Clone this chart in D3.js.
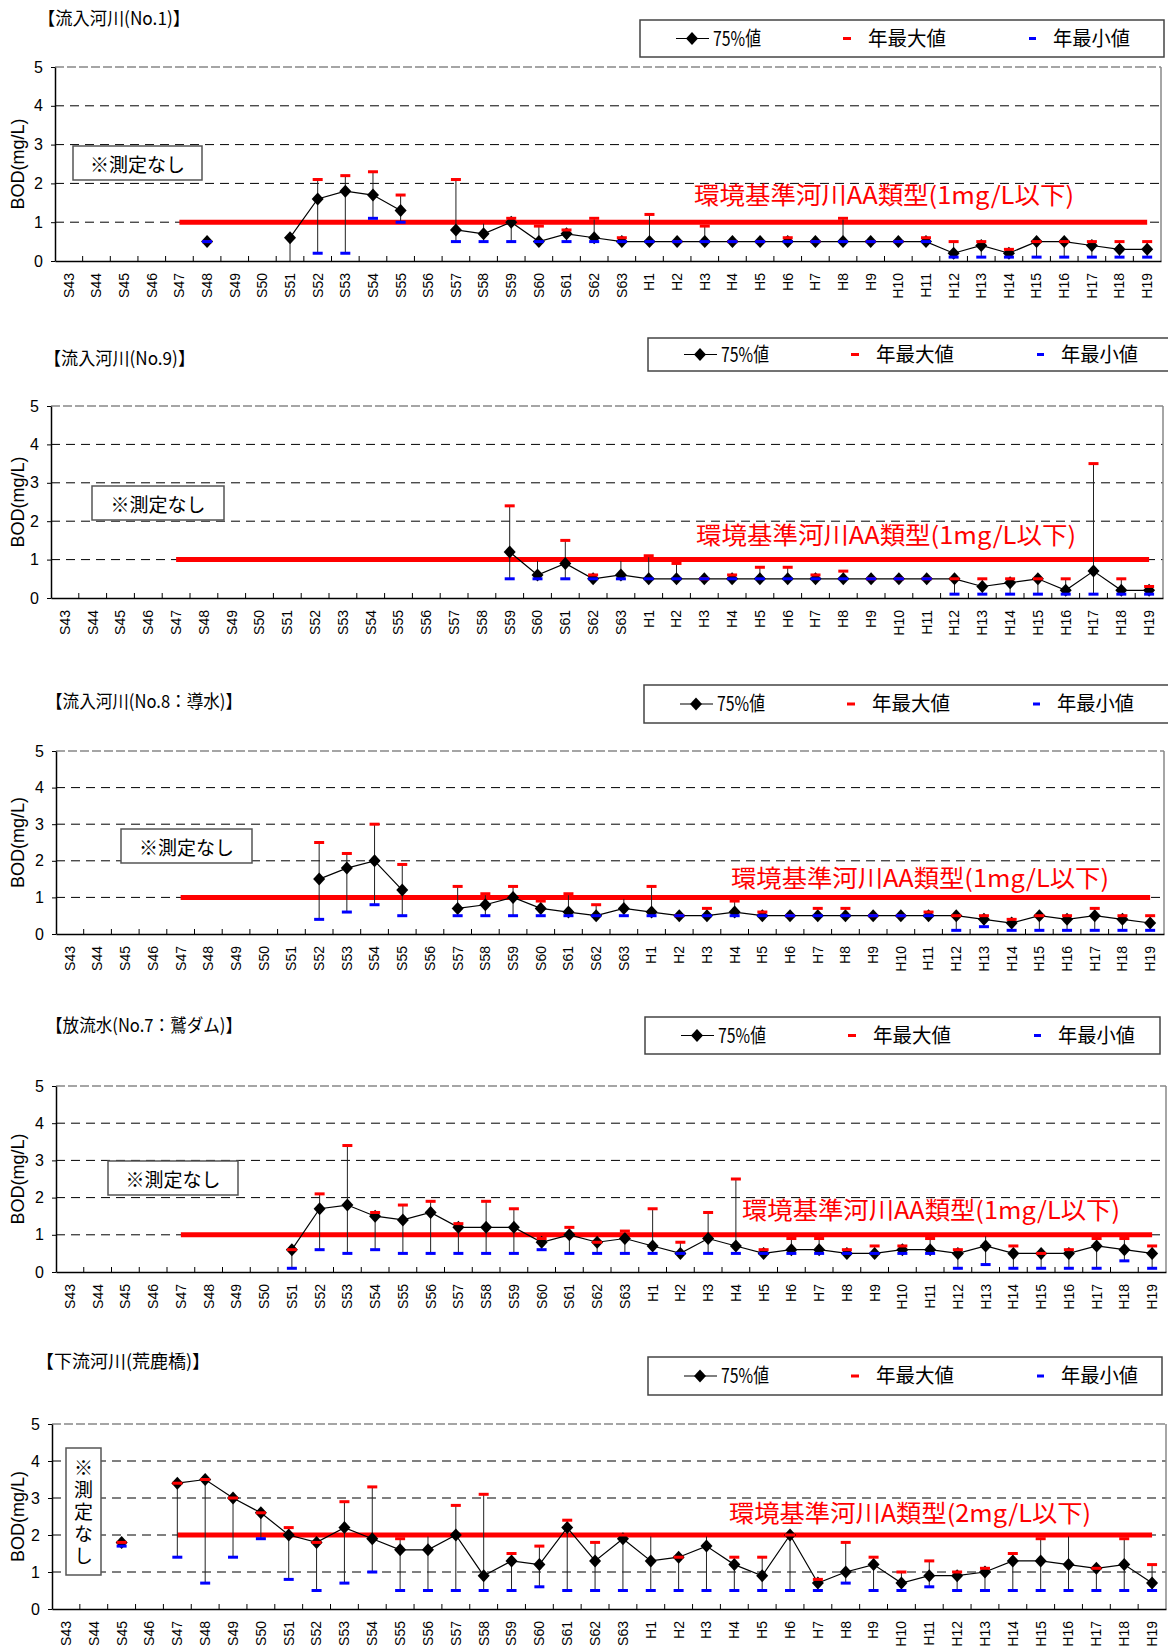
<!DOCTYPE html>
<html>
<head>
<meta charset="utf-8">
<script src="https://cdn.jsdelivr.net/npm/d3@7"></script>
<style>
  body { margin: 0; background: #fff; }
  svg { display: block; }
</style>
</head>
<body>
<div id="chart"></div>
<script>
const _ = null;

// fiscal years on the x axis
const years = ['S43','S44','S45','S46','S47','S48','S49','S50','S51','S52','S53','S54','S55','S56','S57','S58','S59','S60','S61','S62','S63',
  'H1','H2','H3','H4','H5','H6','H7','H8','H9','H10','H11','H12','H13','H14','H15','H16','H17','H18','H19'];
const yTicks = [0, 1, 2, 3, 4, 5];

// 流入河川 No.1
const no1P75 = [_,_,_,_,_, 0.5,_,_, 0.6,1.6,1.8,1.7,1.3,_, 0.8,0.7,1.0,0.5,0.7,0.6,0.5,
  0.5,0.5,0.5,0.5,0.5,0.5,0.5,0.5,0.5,0.5,0.5, 0.2,0.4,0.2,0.5,0.5,0.4,0.3,0.3];
const no1Max = [_,_,_,_,_, 0.5,_,_, _,2.1,2.2,2.3,1.7,_, 2.1,1.0,1.1,0.9,0.8,1.1,0.6,
  1.2,0.5,0.9,0.5,0.5,0.6,0.5,1.1,0.5,0.5,0.6, 0.5,0.5,0.3,0.5,0.5,0.5,0.5,0.5];
const no1Min = [_,_,_,_,_, 0.5,_,_, 0.0,0.2,0.2,1.1,1.0,_, 0.5,0.5,0.5,0.5,0.5,0.5,0.5,
  0.5,0.5,0.5,0.5,0.5,0.5,0.5,0.5,0.5,0.5,0.5, 0.1,0.1,0.1,0.1,0.1,0.1,0.1,0.1];

// 流入河川 No.9
const no9P75 = [_,_,_,_,_,_,_,_,_,_,_,_,_,_,_,_, 1.2,0.6,0.9,0.5,0.6,
  0.5,0.5,0.5,0.5,0.5,0.5,0.5,0.5,0.5,0.5,0.5, 0.5,0.3,0.4,0.5,0.2,0.7,0.2,0.2];
const no9Max = [_,_,_,_,_,_,_,_,_,_,_,_,_,_,_,_, 2.4,1.0,1.5,0.6,1.0,
  1.1,0.9,0.5,0.6,0.8,0.8,0.6,0.7,0.5,0.5,0.5, 0.5,0.5,0.5,0.5,0.5,3.5,0.5,0.3];
const no9Min = [_,_,_,_,_,_,_,_,_,_,_,_,_,_,_,_, 0.5,0.5,0.5,0.5,0.5,
  0.5,0.5,0.5,0.5,0.5,0.5,0.5,0.5,0.5,0.5,0.5, 0.1,0.1,0.1,0.1,0.1,0.1,0.1,0.1];

// 流入河川 No.8 導水
const no8P75 = [_,_,_,_,_,_,_,_,_, 1.5,1.8,2.0,1.2,_, 0.7,0.8,1.0,0.7,0.6,0.5,0.7,
  0.6,0.5,0.5,0.6,0.5,0.5,0.5,0.5,0.5,0.5,0.5, 0.5,0.4,0.3,0.5,0.4,0.5,0.4,0.3];
const no8Max = [_,_,_,_,_,_,_,_,_, 2.5,2.2,3.0,1.9,_, 1.3,1.1,1.3,0.9,1.1,0.8,1.0,
  1.3,0.5,0.7,0.9,0.6,0.5,0.7,0.7,0.5,0.5,0.6, 0.5,0.5,0.4,0.5,0.5,0.7,0.5,0.5];
const no8Min = [_,_,_,_,_,_,_,_,_, 0.4,0.6,0.8,0.5,_, 0.5,0.5,0.5,0.5,0.5,0.5,0.5,
  0.5,0.5,0.5,0.5,0.5,0.5,0.5,0.5,0.5,0.5,0.5, 0.1,0.2,0.1,0.1,0.1,0.1,0.1,0.1];

// 放流水 No.7 鷲ダム
const no7P75 = [_,_,_,_,_,_,_,_, 0.6,1.7,1.8,1.5,1.4,1.6, 1.2,1.2,1.2,0.8,1.0,0.8,0.9,
  0.7,0.5,0.9,0.7,0.5,0.6,0.6,0.5,0.5,0.6,0.6, 0.5,0.7,0.5,0.5,0.5,0.7,0.6,0.5];
const no7Max = [_,_,_,_,_,_,_,_, 0.6,2.1,3.4,1.6,1.8,1.9, 1.3,1.9,1.7,0.9,1.2,0.8,1.1,
  1.7,0.8,1.6,2.5,0.6,0.9,0.9,0.6,0.7,0.7,0.9, 0.6,1.0,0.7,0.5,0.6,0.9,0.9,0.7];
const no7Min = [_,_,_,_,_,_,_,_, 0.1,0.6,0.5,0.6,0.5,0.5, 0.5,0.5,0.5,0.6,0.5,0.5,0.5,
  0.5,0.5,0.5,0.5,0.5,0.5,0.5,0.5,0.5,0.5,0.5, 0.1,0.2,0.1,0.1,0.1,0.1,0.3,0.1];

// 下流河川 荒鹿橋
const arakaP75 = [_,_,1.8,_, 3.4,3.5,3.0,2.6,2.0,1.8,2.2,1.9,1.6,1.6, 2.0,0.9,1.3,1.2,2.2,1.3,1.9,
  1.3,1.4,1.7,1.2,0.9,2.0,0.7,1.0,1.2,0.7,0.9, 0.9,1.0,1.3,1.3,1.2,1.1,1.2,0.7];
const arakaMax = [_,_,1.8,_, 3.4,3.5,3.0,2.6,2.2,1.8,2.9,3.3,1.9,2.0, 2.8,3.1,1.5,1.7,2.4,1.8,2.0,
  2.0,1.4,2.0,1.4,1.4,2.0,0.8,1.8,1.4,1.0,1.3, 1.0,1.1,1.5,1.9,2.0,1.1,1.9,1.2];
const arakaMin = [_,_,1.7,_, 1.4,0.7,1.4,1.9,0.8,0.5,0.7,1.0,0.5,0.5, 0.5,0.5,0.5,0.6,0.5,0.5,0.5,
  0.5,0.5,0.5,0.5,0.5,0.5,0.5,0.7,0.5,0.5,0.6, 0.5,0.5,0.5,0.5,0.5,0.5,0.5,0.5];

const titles = ['【流入河川(No.1)】', '【流入河川(No.9)】', '【流入河川(No.8：導水)】', '【放流水(No.7：鷲ダム)】', '【下流河川(荒鹿橋)】'];
const stdValues = [1, 1, 1, 1, 2];
const stdLabels = ['環境基準河川AA類型(1mg/L以下)', '環境基準河川AA類型(1mg/L以下)', '環境基準河川AA類型(1mg/L以下)',
  '環境基準河川AA類型(1mg/L以下)', '環境基準河川A類型(2mg/L以下)'];
const legendLabels = ['75%値', '年最大値', '年最小値'];
const noteText = '※測定なし';

const JP = '"Noto Sans CJK JP", "Noto Sans", sans-serif';
const LAT = '"Liberation Sans", Arial, sans-serif';
const DIAMOND = 'M0,-6.5L6,0L0,6.5L-6,0Z';

// layout of each panel (pixels)
const panels = [
  { p75: no1P75, max: no1Max, min: no1Min, L: 55, R: 1161, T: 67, B: 261,
    title: { x: 38, y: 25, w: 152 }, std: { x: 694, y: 204, w: 380 },
    legend: { x: 640, y: 20, w: 524, h: 37 }, note: { x: 73, y: 146, w: 129, h: 34 } },
  { p75: no9P75, max: no9Max, min: no9Min, L: 51, R: 1163, T: 406, B: 598,
    title: { x: 44, y: 365, w: 151 }, std: { x: 696, y: 544, w: 380 },
    legend: { x: 648, y: 338, w: 530, h: 33 }, note: { x: 92, y: 486, w: 132, h: 34 } },
  { p75: no8P75, max: no8Max, min: no8Min, L: 56, R: 1164, T: 751, B: 934,
    title: { x: 46, y: 708, w: 196 }, std: { x: 731, y: 887, w: 378 },
    legend: { x: 644, y: 685, w: 534, h: 38 }, note: { x: 121, y: 829, w: 131, h: 34 } },
  { p75: no7P75, max: no7Max, min: no7Min, L: 56, R: 1166, T: 1086, B: 1272,
    title: { x: 46, y: 1032, w: 196 }, std: { x: 742, y: 1219, w: 378 },
    legend: { x: 645, y: 1017, w: 515, h: 37 }, note: { x: 108, y: 1161, w: 130, h: 34 } },
  { p75: arakaP75, max: arakaMax, min: arakaMin, L: 52, R: 1166, T: 1424, B: 1609,
    title: { x: 36, y: 1368, w: 174 }, std: { x: 729, y: 1522, w: 362 },
    legend: { x: 648, y: 1357, w: 514, h: 38 }, note: { x: 66, y: 1448, w: 35, h: 127, vertical: true } }
];

const svg = d3.select('#chart').append('svg')
  .attr('width', 1168)
  .attr('height', 1651);

svg.append('rect').attr('width', 1168).attr('height', 1651).attr('fill', '#fff');

panels.forEach((p, k) => drawPanel(p, k));

function drawPanel(p, k) {
  const g = svg.append('g');

  const x = d3.scaleBand().domain(years).range([p.L, p.R]);
  const y = d3.scaleLinear().domain([0, 5]).range([p.B, p.T]);
  const cx = c => x(c) + x.bandwidth() / 2;

  // title
  g.append('text')
    .attr('x', p.title.x).attr('y', p.title.y)
    .attr('font-family', JP).attr('font-size', 18)
    .attr('textLength', p.title.w).attr('lengthAdjust', 'spacingAndGlyphs')
    .text(titles[k]);

  // legend
  const lg = g.append('g').attr('transform', `translate(${p.legend.x},${p.legend.y})`);
  const my = p.legend.h / 2;
  lg.append('rect')
    .attr('width', p.legend.w).attr('height', p.legend.h)
    .attr('fill', '#fff').attr('stroke', '#444').attr('stroke-width', 1.5);
  lg.append('line').attr('x1', 36).attr('x2', 69).attr('y1', my).attr('y2', my)
    .attr('stroke', '#000').attr('stroke-width', 1.2);
  lg.append('path').attr('d', DIAMOND).attr('transform', `translate(52,${my})`).attr('fill', '#000');
  lg.append('rect').attr('x', 203).attr('y', my - 1.5).attr('width', 8).attr('height', 3).attr('fill', '#ff0000');
  lg.append('rect').attr('x', 389).attr('y', my - 1.5).attr('width', 7).attr('height', 3).attr('fill', '#0000ff');
  const legX = [73, 228, 413];
  const legW = [48, 78, 77];
  lg.selectAll('text.leg').data(legendLabels).enter().append('text')
    .attr('class', 'leg')
    .attr('x', (d, i) => legX[i]).attr('y', my + 7)
    .attr('font-family', JP).attr('font-size', 20)
    .attr('textLength', (d, i) => legW[i]).attr('lengthAdjust', 'spacingAndGlyphs')
    .text(d => d);

  // grid lines
  g.selectAll('line.grid').data([1, 2, 3, 4]).enter().append('line')
    .attr('class', 'grid')
    .attr('x1', p.L).attr('x2', p.R)
    .attr('y1', d => y(d)).attr('y2', d => y(d))
    .attr('stroke', '#000').attr('stroke-width', 1)
    .attr('stroke-dasharray', '9,6');
  g.append('line')
    .attr('x1', p.L).attr('x2', p.R).attr('y1', y(5)).attr('y2', y(5))
    .attr('stroke', '#888').attr('stroke-width', 1.5).attr('stroke-dasharray', '9,3');
  g.append('line')
    .attr('x1', p.R).attr('x2', p.R).attr('y1', y(5)).attr('y2', y(0))
    .attr('stroke', '#888').attr('stroke-width', 1.5);

  // no-measurement note
  const n = p.note;
  g.append('rect').attr('x', n.x).attr('y', n.y).attr('width', n.w).attr('height', n.h)
    .attr('fill', '#fff').attr('stroke', '#555').attr('stroke-width', 1.5);
  if (n.vertical) {
    g.append('text')
      .attr('x', n.x + n.w / 2).attr('y', n.y + 10)
      .style('writing-mode', 'vertical-rl')
      .attr('font-family', JP).attr('font-size', 19)
      .attr('letter-spacing', 3)
      .text(noteText);
  } else {
    g.append('text')
      .attr('x', n.x + n.w / 2).attr('y', n.y + n.h / 2)
      .attr('text-anchor', 'middle').attr('dominant-baseline', 'central')
      .attr('font-family', JP).attr('font-size', 19)
      .text(noteText);
  }

  // environmental standard line
  g.append('line')
    .attr('x1', cx('S47')).attr('x2', cx('H19'))
    .attr('y1', y(stdValues[k])).attr('y2', y(stdValues[k]))
    .attr('stroke', '#ff0000').attr('stroke-width', 5);

  // axes
  const yAxis = g.append('g')
    .attr('transform', `translate(${p.L},0)`)
    .call(d3.axisLeft(y).tickValues(yTicks).tickSize(4).tickSizeOuter(0).tickPadding(8).tickFormat(d3.format('d')));
  yAxis.selectAll('text').attr('font-size', 16).attr('font-family', LAT).attr('fill', '#000');
  yAxis.select('.domain').attr('stroke-width', 1.5);

  const xAxis = g.append('g')
    .attr('transform', `translate(0,${p.B})`)
    .call(d3.axisBottom(x).tickSize(0).tickSizeOuter(0));
  xAxis.selectAll('text')
    .attr('transform', 'rotate(-90)')
    .attr('x', -12).attr('y', 0).attr('dy', '0.35em')
    .style('text-anchor', 'end')
    .attr('font-size', 14).attr('font-family', LAT).attr('fill', '#000');
  xAxis.select('.domain').attr('stroke-width', 1.5);

  // category boundary ticks (inside the plot)
  g.selectAll('line.xt').data(years.slice(1)).enter().append('line')
    .attr('class', 'xt')
    .attr('x1', d => x(d)).attr('x2', d => x(d))
    .attr('y1', p.B).attr('y2', p.B - 5)
    .attr('stroke', '#000');

  // y axis title
  g.append('text')
    .attr('transform', `translate(18,${(p.T + p.B) / 2}) rotate(-90)`)
    .attr('text-anchor', 'middle').attr('dominant-baseline', 'central')
    .attr('font-family', LAT).attr('font-size', 18)
    .text('BOD(mg/L)');

  // series
  const rows = years.map((c, i) => ({ c, v: p.p75[i], hi: p.max[i], lo: p.min[i] }));
  const pts = rows.filter(d => d.v != null);

  const line = d3.line().defined(d => d.v != null).x(d => cx(d.c)).y(d => y(d.v));
  g.append('path').datum(rows)
    .attr('d', line).attr('fill', 'none')
    .attr('stroke', '#000').attr('stroke-width', 1.2);

  g.selectAll('line.whisker').data(pts).enter().append('line')
    .attr('class', 'whisker')
    .attr('x1', d => cx(d.c)).attr('x2', d => cx(d.c))
    .attr('y1', d => y(d.lo != null ? d.lo : d.v))
    .attr('y2', d => y(d.hi != null ? d.hi : d.v))
    .attr('stroke', '#222').attr('stroke-width', 1);

  g.selectAll('path.mark').data(pts).enter().append('path')
    .attr('class', 'mark')
    .attr('d', DIAMOND)
    .attr('transform', d => `translate(${cx(d.c)},${y(d.v)})`)
    .attr('fill', '#000');

  g.selectAll('rect.hi').data(rows.filter(d => d.hi != null)).enter().append('rect')
    .attr('class', 'hi')
    .attr('x', d => cx(d.c) - 5).attr('y', d => y(d.hi) - 1.5)
    .attr('width', 10).attr('height', 3)
    .attr('fill', '#ff0000');

  g.selectAll('rect.lo').data(rows.filter(d => d.lo != null && d.lo > 0)).enter().append('rect')
    .attr('class', 'lo')
    .attr('x', d => cx(d.c) - 5).attr('y', d => y(d.lo) - 1.5)
    .attr('width', 10).attr('height', 3)
    .attr('fill', '#0000ff');

  // standard label
  g.append('text')
    .attr('x', p.std.x).attr('y', p.std.y)
    .attr('font-family', JP).attr('font-size', 24).attr('fill', '#ff0000')
    .attr('textLength', p.std.w).attr('lengthAdjust', 'spacingAndGlyphs')
    .text(stdLabels[k]);
}
</script>
</body>
</html>
